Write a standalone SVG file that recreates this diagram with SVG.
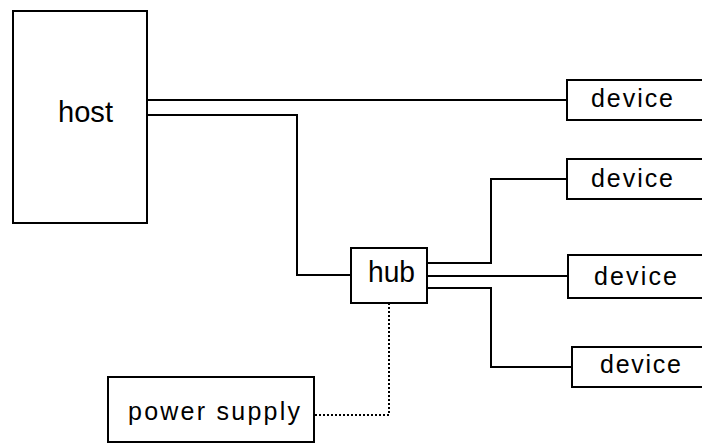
<svg xmlns="http://www.w3.org/2000/svg" width="702" height="443" viewBox="0 0 702 443">
<style>
.box{fill:#fff;stroke:#000;stroke-width:2}
.lbl{font-family:"Liberation Sans",Arial,sans-serif;font-size:25px;fill:#000}
.big{font-size:29px}
.wire{fill:none;stroke:#000;stroke-width:2}
.dot{fill:none;stroke:#000;stroke-width:2;stroke-dasharray:2 2}
</style>
<rect width="702" height="443" fill="#fff"/>
<g id="connectors">
<polyline class="wire" points="147,100 568,100"/>
<polyline class="wire" points="147,115 297,115 297,275 351,275"/>
<polyline class="wire" points="427,263 491,263 491,179 568,179"/>
<polyline class="wire" points="427,276 568,276"/>
<polyline class="wire" points="427,288 491,288 491,367 572,367"/>
<polyline class="dot" points="315,415 389,415 389,303"/>
</g>
<g id="host">
<rect class="box" x="13" y="11" width="134" height="212"/>
<text class="lbl big" x="58" y="122" textLength="55" lengthAdjust="spacingAndGlyphs">host</text>
</g>
<g id="hub">
<rect class="box" x="351" y="248" width="76" height="55"/>
<text class="lbl big" x="368" y="282" textLength="47" lengthAdjust="spacingAndGlyphs">hub</text>
</g>
<g id="device1">
<rect class="box" x="567" y="80" width="140" height="40"/>
<text class="lbl" x="591" y="107" textLength="82" lengthAdjust="spacing">device</text>
</g>
<g id="device2">
<rect class="box" x="567" y="159" width="140" height="40"/>
<text class="lbl" x="591" y="187" textLength="82" lengthAdjust="spacing">device</text>
</g>
<g id="device3">
<rect class="box" x="568" y="255" width="140" height="43"/>
<text class="lbl" x="594" y="285" textLength="83" lengthAdjust="spacing">device</text>
</g>
<g id="device4">
<rect class="box" x="572" y="347" width="140" height="40"/>
<text class="lbl" x="600" y="373" textLength="81" lengthAdjust="spacing">device</text>
</g>
<g id="power-supply">
<rect class="box" x="108" y="377" width="206" height="65"/>
<text class="lbl" x="128" y="420" textLength="172" lengthAdjust="spacing">power supply</text>
</g>
</svg>
